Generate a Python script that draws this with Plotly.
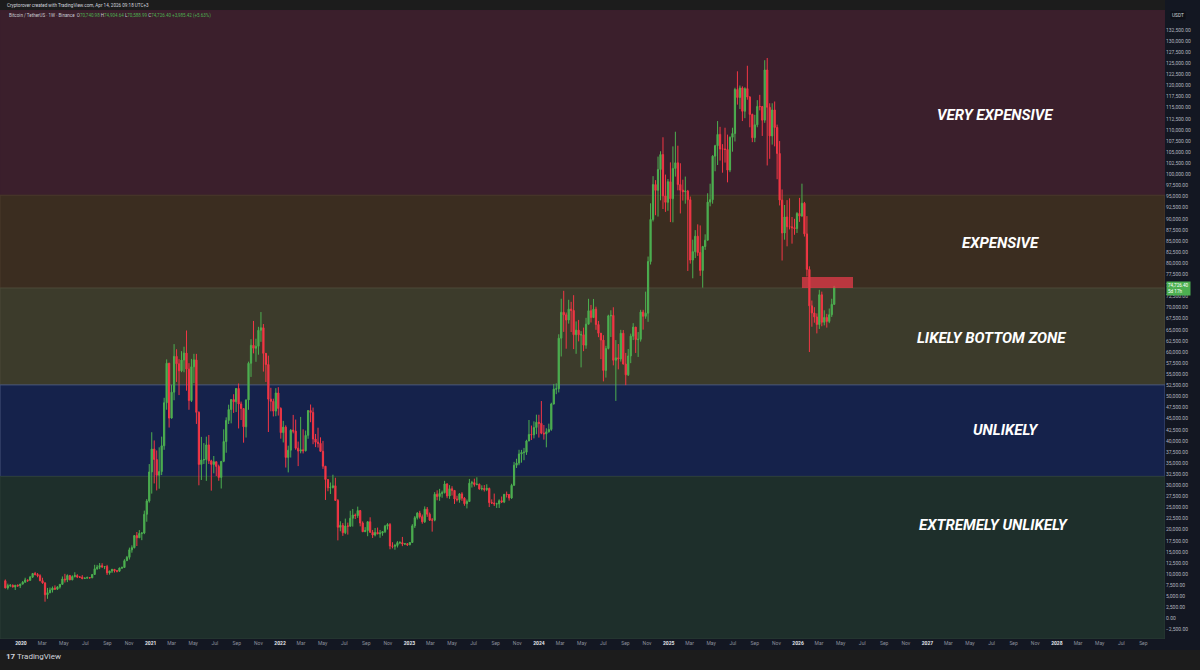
import pandas as pd
import plotly.graph_objects as go

# Colors
BG = "#1c1c1c"
AXIS_BG = "#131722"
GREEN = "#4CAF50"
RED = "#F23645"
TEXT = "#b2b5be"

# BTC/USDT weekly bars: (high, low, close), weeks start Monday
first_open = 8500
w2019 = [
    (8800, 6790, 6900), (7860, 6520, 7420), (7750, 7080, 7500), (7680, 7000, 7110),
    (7520, 6430, 7510), (7690, 7120, 7390), (7800, 6870, 7760),
]
w2020 = [
    (8460, 7670, 8180), (9190, 8100, 8700), (8720, 8240, 8600), (9600, 8550, 9330),
    (10160, 9140, 10150), (10500, 9700, 9920), (10250, 9300, 9660), (9970, 8400, 8530),
    (9190, 7840, 8030), (8180, 3800, 5360), (6900, 4450, 5830), (6990, 5700, 6410),
    (7220, 5860, 6860), (7470, 6500, 6620), (7300, 6460, 7120), (7750, 6750, 7700),
    (9480, 7690, 8900), (10070, 8110, 8720), (9950, 8200, 9680), (9830, 8630, 8720),
    (9740, 8630, 9450), (10430, 9260, 9670), (9990, 9100, 9340), (9590, 9170, 9300),
    (9780, 8830, 9010), (9310, 8900, 9080), (9470, 9120, 9240), (9320, 9000, 9170),
    (9980, 9130, 9930), (12100, 9890, 11200), (12080, 10990, 11570), (12490, 11130, 11910),
    (12470, 11380, 11660), (11780, 11120, 11700), (12090, 9810, 10280), (10780, 9880, 10680),
    (11180, 10270, 11080), (10990, 10370, 10770), (10950, 10400, 10670), (11490, 10520, 11360),
    (11720, 11160, 11500), (13360, 11420, 13030), (14100, 12960, 13780), (15970, 13290, 15480),
    (16490, 14830, 15960), (18800, 15790, 18680), (19480, 16330, 18180), (19920, 18200, 19170),
    (19410, 17650, 19270), (24300, 19000, 23470), (26900, 21800, 26480), (34780, 26100, 33000),
]
w2021 = [
    (41950, 28130, 38150), (40100, 30420, 35800), (37850, 28850, 32260), (38550, 29240, 33090),
    (40960, 32300, 38900), (49700, 37990, 48580), (58350, 47010, 57490), (57560, 43000, 45140),
    (52640, 45000, 50970), (61780, 49150, 59020), (60630, 53270, 57350), (58400, 50310, 55780),
    (60200, 55470, 58200), (61200, 55450, 59770), (64850, 51300, 56150), (57500, 47000, 49080),
    (58460, 48750, 56680), (59600, 53000, 58240), (59590, 43820, 46420), (46660, 30000, 34700),
    (40900, 31200, 35700), (39500, 34800, 35800), (40950, 31000, 39100), (41330, 34800, 35500),
    (35750, 28800, 34700), (36600, 32700, 35300), (35100, 32100, 34260), (34650, 31020, 31780),
    (35400, 29280, 35400), (42600, 35200, 39850), (45300, 37330, 44600), (48150, 43800, 47060),
    (49380, 43950, 49300), (50500, 46300, 48800), (51900, 46500, 51800), (52920, 42800, 48300),
    (48850, 44700, 47280), (45000, 39600, 43170), (49300, 40750, 49230), (57840, 47000, 57470),
    (62900, 54400, 61520), (67000, 59700, 60850), (63000, 57800, 61300), (65680, 59400, 64900),
    (69000, 62300, 65470), (66300, 55600, 59700), (59200, 53250, 57200), (59180, 42000, 49400),
    (51950, 46650, 48900), (49500, 45500, 46700), (51870, 45560, 50780), (52090, 45700, 47300),
]
w2022 = [
    (47570, 40500, 41860), (44500, 39650, 43100), (43500, 34000, 36280), (38920, 32900, 37900),
    (42650, 36250, 42400), (45850, 41700, 42200), (44800, 38000, 38350), (39850, 34320, 37700),
    (45400, 37200, 38000), (42600, 37170, 37780), (42320, 37620, 41250), (46900, 40470, 46820),
    (48190, 44200, 46400), (47500, 39250, 40420), (41560, 38600, 39700), (42970, 38500, 39450),
    (40800, 37580, 37650), (40000, 33700, 34300), (34250, 26700, 31300), (31320, 28660, 29450),
    (30630, 28050, 29500), (32380, 29280, 29900), (31700, 26560, 26600), (26900, 17600, 20550),
    (21900, 19650, 20990), (21500, 18620, 19320), (22500, 19000, 20850), (21600, 18900, 20800),
    (24280, 20700, 22580), (24670, 20700, 23300), (23650, 22400, 23180), (25200, 22660, 24300),
    (24450, 20760, 21500), (21880, 19550, 19550), (20580, 19520, 19800), (21870, 18540, 21800),
    (22800, 19320, 19420), (19950, 18150, 18800), (20380, 18500, 19400), (20480, 19000, 19070),
    (19950, 18190, 19260), (19700, 18650, 19570), (21080, 19240, 20800), (21480, 20040, 21170),
    (21500, 15600, 16330), (17190, 15800, 16280), (16800, 15500, 16450), (17430, 16000, 17100),
    (17420, 16750, 17100), (18380, 16300, 16780), (16950, 16550, 16840), (16980, 16330, 16620),
]
w2023 = [
    (17180, 16500, 17130), (21250, 17100, 20870), (23070, 20400, 22700), (23960, 22300, 23740),
    (24260, 22500, 22930), (23430, 21350, 21780), (25250, 21530, 24630), (25120, 22900, 23490),
    (23880, 21970, 22160), (22630, 19570, 22150), (28470, 21900, 27990), (28870, 26620, 27480),
    (29200, 26500, 28170), (28800, 27200, 28330), (31000, 28170, 30300), (30490, 27100, 27590),
    (30040, 26950, 29230), (29800, 27700, 28850), (28880, 25800, 26920), (27650, 26350, 26750),
    (28260, 26080, 28070), (28450, 26500, 27110), (27350, 25400, 25850), (26800, 24800, 26340),
    (31430, 26240, 30480), (31000, 29500, 30590), (31500, 29700, 30170), (31800, 30000, 30230),
    (30400, 29000, 29190), (29990, 28850, 29280), (30050, 28600, 29050), (30230, 28700, 29300),
    (29480, 25100, 26100), (26830, 25800, 26000), (28140, 25330, 25830), (26080, 24900, 25840),
    (26850, 24900, 26530), (27480, 26000, 26250), (27990, 25990, 27970), (28590, 27250, 27920),
    (28000, 26550, 27150), (30350, 26950, 30000), (35280, 29900, 34520), (35980, 33900, 35000),
    (38000, 34520, 37060), (37980, 35100, 37400), (38420, 35650, 37450), (40250, 36850, 39970),
    (44700, 39980, 41450), (43450, 40200, 41370), (44400, 40560, 43000), (45900, 41500, 44180),
]
w2024 = [
    (45880, 40750, 43950), (48970, 41500, 41730), (43580, 40280, 41580), (42840, 38550, 42030),
    (43880, 41880, 42580), (48590, 42260, 48300), (52820, 48200, 51650), (52950, 50520, 51730),
    (64000, 50900, 63110), (72000, 59000, 68950), (73780, 64540, 68370), (68900, 60750, 67210),
    (71770, 66400, 69650), (71300, 64500, 69360), (72800, 60660, 63900), (66900, 59600, 64940),
    (67230, 62400, 63870), (64700, 56550, 63900), (65500, 60200, 61550), (67700, 60740, 66270),
    (71980, 66400, 69300), (70600, 66650, 67760), (71950, 68450, 69650), (70200, 65000, 66200),
    (67000, 63350, 64240), (63800, 58400, 62700), (63800, 53400, 55850), (61400, 54250, 60800),
    (68400, 60600, 68150), (69400, 63400, 68250), (70080, 57000, 58150), (62700, 49000, 58700),
    (61800, 56100, 58450), (65000, 57850, 64230), (64950, 57200, 57300), (59800, 52550, 54870),
    (60670, 54600, 59120), (64140, 57500, 63580), (66500, 62700, 65620), (65000, 59800, 62800),
    (64500, 58900, 62870), (69500, 62350, 69000), (69500, 65050, 68030), (73600, 67500, 68750),
    (81500, 66800, 80370), (93480, 79700, 89850), (99600, 89400, 97700), (98700, 90800, 96400),
    (104000, 90500, 101100), (105200, 94150, 104460), (108350, 92200, 95150), (99950, 91550, 93700),
    (98950, 91800, 98350),
]
w2025 = [
    (102700, 89250, 94500), (106300, 89200, 101330), (109600, 99500, 102600), (106450, 96400, 97700),
    (102500, 91200, 96450), (98800, 94100, 96100), (99500, 93400, 96250), (96500, 78250, 94270),
    (95000, 79900, 80700), (85300, 76600, 82600), (87450, 81150, 86080), (88750, 81650, 82390),
    (88500, 77150, 78370), (83900, 74500, 83760), (86500, 83000, 85170), (95750, 85150, 93750),
    (97900, 92800, 94300), (104300, 93400, 104100), (106650, 100700, 106450), (112000, 102100, 109000),
    (110700, 103100, 105700), (106800, 100370, 105700), (110500, 102650, 105600), (108950, 98200, 100960),
    (108550, 100500, 108350), (110500, 105100, 109200), (119500, 107400, 119100), (123200, 115700, 117300),
    (120000, 114700, 119450), (119800, 112000, 114200), (119600, 112650, 119300), (124450, 116800, 117400),
    (117600, 110600, 113500), (113650, 107250, 108250), (113400, 107250, 111150), (116700, 110600, 115300),
    (117900, 114400, 115250), (115400, 108650, 112200), (125700, 111600, 123500), (126200, 102000, 115100),
    (116000, 103500, 108650), (116000, 106700, 114500), (116400, 106300, 110550), (111200, 98900, 104700),
    (107500, 93000, 94200), (96600, 80600, 86800), (93100, 85300, 90400), (94200, 83800, 88200),
    (94600, 87600, 88200), (90400, 84400, 88000), (90000, 86400, 87800), (91500, 86800, 91200),
]
w2026 = [
    (94700, 89300, 90600), (97900, 90500, 93500), (93800, 86000, 86600), (90600, 77000, 78600),
    (79300, 60000, 70400), (71600, 65700, 68800), (70100, 66600, 67900), (68700, 64200, 66200),
    (74000, 65200, 72900), (73600, 65800, 66700), (69400, 66000, 67800), (68600, 65500, 66900),
    (69800, 66500, 68400), (72000, 67900, 70740.98), (74904.64, 70588.99, 74726.40),
]
last_week = "2026-04-13"

# Zones
zone_names = ["VERY EXPENSIVE", "EXPENSIVE", "LIKELY BOTTOM ZONE", "UNLIKELY", "EXTREMELY UNLIKELY"]
zone_top = [137000, 95300, 74400, 52600, 32000]
zone_bottom = [95300, 74400, 52600, 32000, -4600]

# Resistance box
box_dates = ["2026-01-12", "2026-06-05"]
box_prices = [74400, 76900]

# Styling
zone_fill = ["#3b1f2c", "#3b2d20", "#3c3b2b", "#15224b", "#1e2f2b"]
zone_edge = ["#3b1f2c", "#4a3a2b", "#4a4938", "#46537a", "#2a3d37"]
label_x = [0.854, 0.859, 0.851, 0.8635, 0.853]
label_y = [113400, 84600, 63200, 42500, 21100]

bars = w2019 + w2020 + w2021 + w2022 + w2023 + w2024 + w2025 + w2026
highs = [b[0] for b in bars]
lows = [b[1] for b in bars]
closes = [b[2] for b in bars]
opens = [first_open] + closes[:-1]
weeks = pd.date_range(end=last_week, periods=len(bars), freq="7D")

fig = go.Figure(go.Candlestick(
    x=weeks, open=opens, high=highs, low=lows, close=closes,
    increasing={'line': {'color': GREEN, 'width': 1}, 'fillcolor': GREEN},
    decreasing={'line': {'color': RED, 'width': 1}, 'fillcolor': RED},
    whiskerwidth=0, showlegend=False, hoverinfo="skip",
))

shapes = []
for top, bottom, fill, edge in zip(zone_top, zone_bottom, zone_fill, zone_edge):
    shapes.append(dict(type="rect", xref="paper", yref="y", x0=0, x1=1, y0=bottom, y1=top,
                       fillcolor=fill, line=dict(color=edge, width=1), layer="below"))
# red box
shapes.append(dict(type="rect", xref="x", yref="y", x0=box_dates[0], x1=box_dates[1],
                   y0=box_prices[0], y1=box_prices[1], fillcolor="rgba(222,58,72,0.78)",
                   line=dict(width=0), layer="above"))
# axis panels
shapes.append(dict(type="rect", xref="paper", yref="paper", x0=1, x1=1.031, y0=-0.0175, y1=1.017,
                   fillcolor=AXIS_BG, line=dict(width=0), layer="below"))
shapes.append(dict(type="rect", xref="paper", yref="paper", x0=0, x1=1.031, y0=-0.0175, y1=0,
                   fillcolor=AXIS_BG, line=dict(width=0), layer="below"))

annotations = []
for name, lx, ly in zip(zone_names, label_x, label_y):
    annotations.append(dict(text="<b><i>" + name + "</i></b>", xref="paper", yref="y", x=lx, y=ly,
                            xanchor="center", yanchor="middle", showarrow=False,
                            font=dict(family="Roboto", size=15, color="white")))

annotations.append(dict(
    text="Cryptorover created with TradingView.com, Apr 14, 2026 09:18 UTC+3",
    xref="paper", yref="paper", x=0.0043, y=1.0068, xanchor="left", yanchor="middle",
    showarrow=False, font=dict(family="Roboto", size=4.6, color="#d1d4dc")))
hdr = ("Bitcoin / TetherUS · 1W · Binance  "
       "O<span style='color:#4CAF50'>70,740.98</span> H<span style='color:#4CAF50'>74,904.64</span> "
       "L<span style='color:#4CAF50'>70,588.99</span> C<span style='color:#4CAF50'>74,726.40</span> "
       "<span style='color:#4CAF50'>+3,985.42 (+5.63%)</span>")
annotations.append(dict(text=hdr, xref="paper", yref="paper", x=0.006, y=0.991,
                        xanchor="left", yanchor="middle", showarrow=False,
                        font=dict(family="Roboto", size=4.5, color="#c9ccd4")))
annotations.append(dict(text="USDT", xref="paper", yref="paper", x=1.004, y=0.991,
                        xanchor="left", yanchor="middle", showarrow=False, bgcolor="#0d1017",
                        font=dict(family="Roboto", size=4.8, color="#d1d4dc")))
annotations.append(dict(text="74,726.40<br>5d 17h", xref="paper", yref="y", x=1.001, y=74200,
                        xanchor="left", yanchor="middle", showarrow=False, bgcolor=GREEN,
                        borderpad=1, align="left",
                        font=dict(family="Roboto", size=4.6, color="white")))
annotations.append(dict(text="<b>17</b> TradingView", xref="paper", yref="paper", x=0.0034, y=-0.0286,
                        xanchor="left", yanchor="middle", showarrow=False,
                        font=dict(family="Roboto", size=8, color="#d1d4dc")))

# x ticks: year labels at January, odd months in between
month_names = {1: None, 3: "Mar", 5: "May", 7: "Jul", 9: "Sep", 11: "Nov"}
tickvals, ticktext = [], []
for yr in range(2020, 2029):
    for m, label in month_names.items():
        if yr == 2028 and m == 11:
            continue
        tickvals.append(f"{yr}-{m:02d}-01")
        ticktext.append(f"<span style='color:#e0e3eb'><b>{yr}</b></span>" if label is None else label)

# y ticks every 2,500 up to 132,500 (top slot is taken by the USDT tag)
ytickvals = list(range(-2500, 135000, 2500))

fig.update_layout(
    width=1200, height=670,
    margin=dict(l=0, r=35, t=10, b=31, autoexpand=False),
    paper_bgcolor=BG, plot_bgcolor=BG,
    shapes=shapes, annotations=annotations,
    xaxis=dict(type="date", range=["2019-11-03", "2028-11-01"], rangeslider=dict(visible=False),
               showgrid=False, zeroline=False, showline=False, ticks="",
               tickvals=tickvals, ticktext=ticktext, tickangle=0,
               tickfont=dict(family="Roboto", size=5, color="#8c909c")),
    yaxis=dict(side="right", range=[-4600, 137000], tickvals=ytickvals, tickformat=",.2f",
               showgrid=False, zeroline=False, showline=False, ticks="",
               tickfont=dict(family="Roboto", size=5, color=TEXT)),
    font=dict(family="Roboto"),
)

# drop the browser's default 8px body margin so the figure sits at the window origin
fig.write_html("out.html", config={"displayModeBar": False},
               post_script="document.body.style.margin='0';")
